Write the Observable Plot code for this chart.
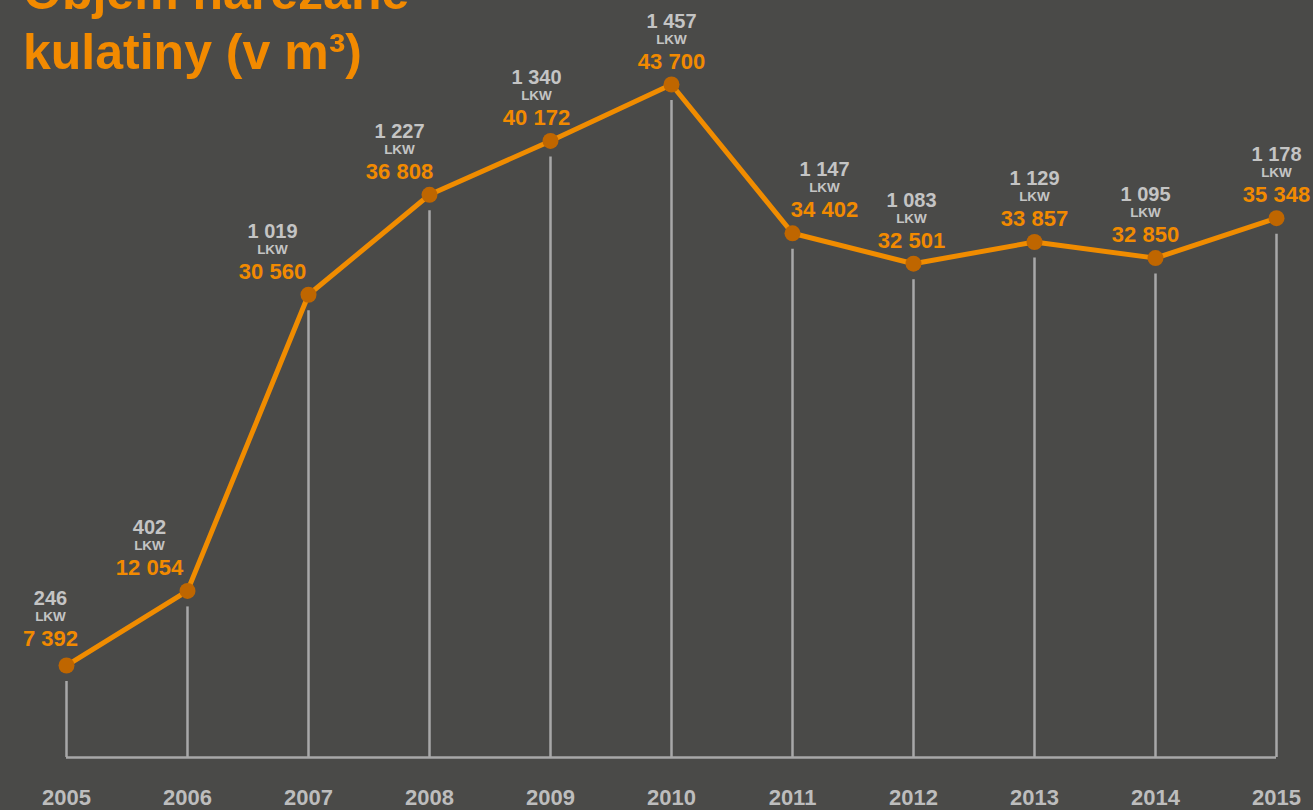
<!DOCTYPE html>
<html>
<head>
<meta charset="utf-8">
<script src="https://cdn.jsdelivr.net/npm/d3@7"></script>
<script src="https://cdn.jsdelivr.net/npm/@observablehq/plot@0.6"></script>
<style>
  html, body { margin: 0; padding: 0; background: #4a4a48; overflow: hidden; }
  #wrap { position: relative; width: 1313px; height: 810px; }
  #title {
    position: absolute; left: 23px; top: -38px; margin: 0;
    font-family: "Liberation Sans", Arial, sans-serif; font-weight: bold;
    font-size: 50px; line-height: 60px; color: #f28a00; z-index: 2;
  }
  svg { display: block; }
</style>
</head>
<body>
<div id="wrap">
  <h1 id="title">Objem nařezané<br>kulatiny (v m³)</h1>
</div>
<script>
// Data
const years = ["2005","2006","2007","2008","2009","2010","2011","2012","2013","2014","2015"];
const volume = [7392, 12054, 30560, 36808, 40172, 43700, 34402, 32501, 33857, 32850, 35348];
const trucks = [246, 402, 1019, 1227, 1340, 1457, 1147, 1083, 1129, 1095, 1178];
const unitLabel = "LKW";

// Layout tweaks (label nudges in pixels, not data)
const labelDx = [-16, -38, -36, -30, -14, 0, 32, -2, 0, -10, 0];
const labelDyExtra = [-4, 0, 0, 0, 0, 0, 0, 0, 0, 0, 0];

const yFloor = 1643;
const fmt = v => d3.format(",")(v).replace(/,/g, " ");

const data = years.map((y, i) => ({year: y, volume: volume[i], trucks: trucks[i], i}));

const font = "Liberation Sans, Arial, sans-serif";
const labelMarks = data.flatMap(d => {
  const dx = labelDx[d.i], e = labelDyExtra[d.i];
  return [
    Plot.text([d], {x: "year", y: "volume", text: r => fmt(r.trucks), dx, dy: -57 + e,
      lineAnchor: "bottom", fill: "#c4c4c4", fontSize: 20, fontWeight: "bold", fontFamily: font}),
    Plot.text([d], {x: "year", y: "volume", text: () => unitLabel, dx, dy: -41 + e,
      lineAnchor: "bottom", fill: "#c4c4c4", fontSize: 13.5, fontWeight: "bold", fontFamily: font}),
    Plot.text([d], {x: "year", y: "volume", text: r => fmt(r.volume), dx, dy: -16 + e,
      lineAnchor: "bottom", fill: "#f28a00", fontSize: 22, fontWeight: "bold", fontFamily: font})
  ];
});

const chart = Plot.plot({
  width: 1313,
  height: 810,
  marginLeft: 66,
  marginRight: 37,
  marginTop: 84,
  marginBottom: 53,
  style: {background: "#4a4a48", fontFamily: font, overflow: "visible"},
  x: {type: "point", domain: years, padding: 0},
  y: {domain: [yFloor, 43700], axis: null},
  marks: [
    Plot.ruleY([yFloor], {stroke: "#a8a8a8", strokeWidth: 2.5}),
    Plot.ruleX(data, {x: "year", y1: "volume", y2: yFloor, stroke: "#a8a8a8", strokeWidth: 2.5, insetTop: 16}),
    Plot.line(data, {x: "year", y: "volume", stroke: "#f08c00", strokeWidth: 5}),
    Plot.dot(data, {x: "year", y: "volume", r: 8, fill: "#bf6600", stroke: "none"}),
    ...labelMarks,
    Plot.axisX({tickSize: 0, tickPadding: 32, fontSize: 22, fontWeight: "bold", fill: "#bdbdbd", fontFamily: font, label: null})
  ]
});
document.getElementById("wrap").appendChild(chart);
</script>
</body>
</html>
